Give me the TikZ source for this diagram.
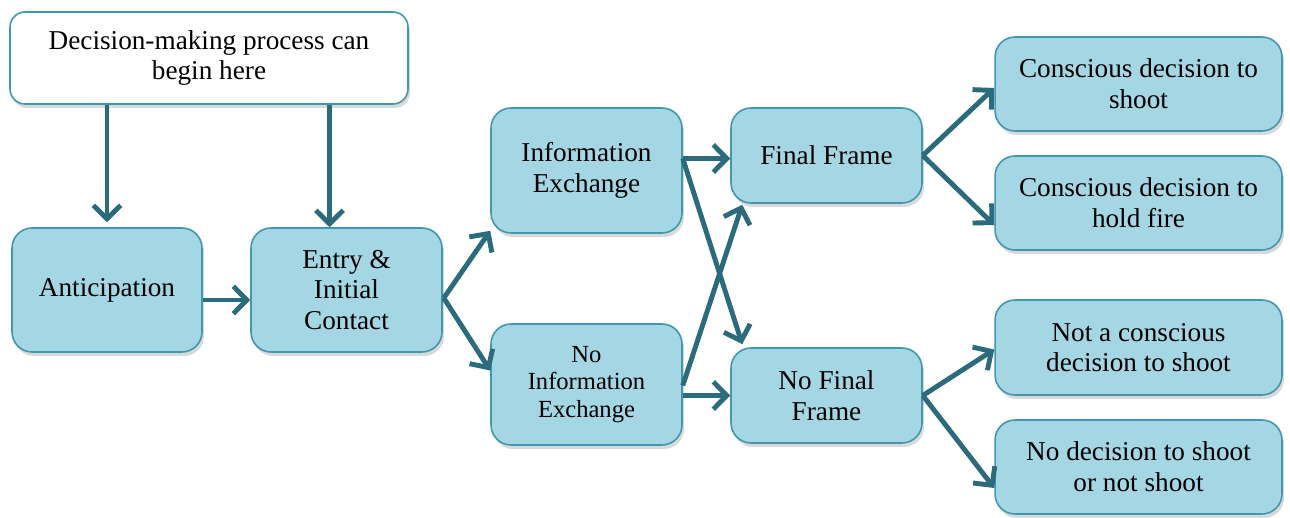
\documentclass[tikz,border=0pt]{standalone}
\usepackage{fontspec}
\setmainfont{Liberation Serif}
\usetikzlibrary{arrows.meta,calc,shadows}
\definecolor{boxfill}{HTML}{A5D6E3}
\definecolor{boxline}{HTML}{3F98AF}
\definecolor{arrcol}{HTML}{2C6B7B}

\begin{document}
\begin{tikzpicture}[x=0.02cm,y=-0.02cm,
  box/.style={draw=boxline,line width=0.9pt,fill=boxfill,rounded corners=0.4cm,align=center,
    font=\fontsize{15.5}{17.5}\selectfont,inner sep=0pt,
    drop shadow={opacity=0.3,shadow xshift=0.04cm,shadow yshift=-0.08cm}},
  startbox/.style={box,fill=white,rounded corners=0.3cm},
  arr/.style={draw=arrcol,line width=2.8pt,-{Straight Barb[length=0.27cm,width=0.55cm]}}]
\useasboundingbox (0,0) rectangle (1290,517);
%\draw[help lines] (0,0) grid[step=0.5cm] (1290,517);
\node[startbox,minimum width=7.96cm,minimum height=1.84cm] (start) at (209,58) {Decision-making process can\\begin here};
\node[box,minimum width=3.8cm,minimum height=2.48cm] (antic) at (107,290) {Anticipation};
\node[box,minimum width=3.82cm,minimum height=2.48cm] (entry) at (346.5,290) {Entry \&\\Initial\\Contact};
\node[box,minimum width=3.82cm,minimum height=2.5cm] (info) at (586.5,170.5) {Information\\Exchange};
\node[box,minimum width=3.82cm,minimum height=2.42cm,font=\fontsize{14}{15.5}\selectfont] (noinfo) at (586.5,384.5) {No\\Information\\Exchange};
\node[box,minimum width=3.82cm,minimum height=1.9cm] (final) at (826.5,155.5) {Final Frame};
\node[box,minimum width=3.82cm,minimum height=1.9cm] (nofinal) at (826.5,395.5) {No Final\\Frame};
\node[box,minimum width=5.74cm,minimum height=1.88cm] (shoot) at (1138.5,84) {Conscious decision to\\shoot};
\node[box,minimum width=5.74cm,minimum height=1.88cm] (hold) at (1138.5,203) {Conscious decision to\\hold fire};
\node[box,minimum width=5.74cm,minimum height=1.9cm] (notcons) at (1138.5,347.5) {Not a conscious\\decision to shoot};
\node[box,minimum width=5.74cm,minimum height=1.88cm] (nodec) at (1138.5,467) {No decision to shoot\\or not shoot};

% start box down to the first two stages
\coordinate (e1) at ($(entry.north)+(-17,0)$);
\draw[arr] (start.south -| antic.north) -- ($(antic.north)+(0,-5)$);
\draw[arr] (start.south -| e1) -- (e1);
\coordinate (a1) at ($(antic.east)+(0,10)$);
\draw[arr] (a1) -- (a1 -| entry.west);

% entry splits
\coordinate (e2) at ($(entry.east)+(1,8)$);
\draw[arr] (e2) -- ($(info.south west)+(0,-3)$);
\draw[arr] (e2) -- ($(noinfo.west)+(0,-14)$);

% crossing arrows
\coordinate (i1) at ($(info.east)+(0,-12)$);
\draw[arr] (i1) -- (i1 -| final.west);
\draw[arr] (i1) -- ($(nofinal.north west)+(12,-3)$);
\coordinate (n1) at ($(noinfo.east)+(0,1)$);
\draw[arr] (n1) -- ($(final.south west)+(12,1)$);
\coordinate (n2) at (noinfo.east |- nofinal.west);
\draw[arr] (n2) -- (nofinal.west);

% outcomes
\draw[arr] (final.east) -- ($(shoot.west)+(0,4)$);
\draw[arr] (final.east) -- ($(hold.west)+(0,22)$);
\draw[arr] (nofinal.east) -- ($(notcons.west)+(0,2)$);
\draw[arr] (nofinal.east) -- ($(nodec.west)+(0,21)$);
\end{tikzpicture}
\end{document}
